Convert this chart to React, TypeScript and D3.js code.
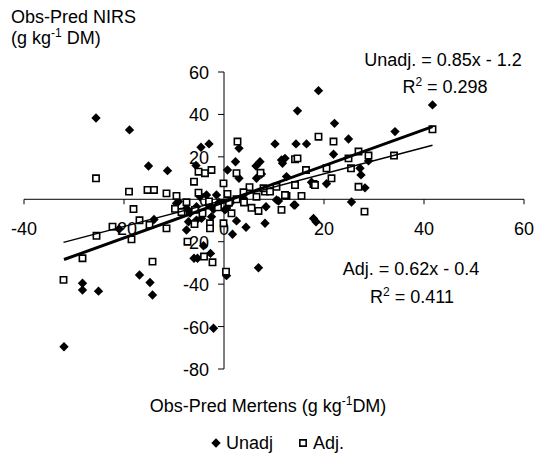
import React from "react";
import * as d3 from "d3";

// Unadjusted residuals: [Obs-Pred Mertens, Obs-Pred NIRS]
const unadjX = [
  -32.0, -28.3, -28.3, -25.1, -25.6, -18.9, -15.1, -11.3, -16.9, -14.8, -14.3, -14.0,
  -21.0, -9.5, -7.5, -6.0, -4.1, -2.7, -5.3, 0.5, -2.1, 6.9, 1.7, 4.4, 2.5, 0.2, 8.4,
  8.2, 10.9, 14.2, 17.9, 18.4, -5.5, -2.5, -7.1, -4.5, -7.5, -3.1, -2.1, -5.5, -3.5,
  -4.8, -5.6, -4.6, -3.0, 2.3, 0.7, 3.0, 3.0, 6.4, 7.2, 10.2, 11.5, 12.2, 11.7, 14.4,
  16.5, 14.7, 18.9, 12.5, 17.5, 22.1, 24.9, 34.2, 41.7, 21.9, 28.9, 27.2, 27.4, 20.5,
  28.2, 25.5, 14.0, 6.5, 7.5, 10.5, 3.9, 0.5, -9.1, -1.5, -6.8, -8.6, -1.0, 1.2,
];
const unadjY = [
  -69.5, -39.6, -42.8, -43.3, 38.3, 32.7, 15.7, 13.5, -35.7, -39.2, -45.1, -9.5,
  -14.0, -1.9, -14.5, -27.8, -21.9, -25.5, -27.8, -36.0, -60.8, -32.3, -16.5, -13.2,
  -10.2, -5.0, -3.5, -11.3, -0.8, -2.7, -9.0, -10.6, -9.8, -8.2, -10.6, -9.0, -4.2,
  -2.7, -4.7, -3.5, 2.0, 1.2, 15.9, 24.5, 26.1, 17.7, 13.8, 24.0, 9.9, 15.7, 17.7,
  26.1, 18.5, 19.3, 17.0, 26.1, 26.1, 41.7, 51.2, 10.7, 8.0, 35.8, 28.4, 31.9, 44.5,
  21.2, 18.1, 14.6, 11.5, 7.3, 5.4, -1.3, -2.7, 9.9, 11.9, -0.3, 0.5, -4.2, -1.1,
  2.0, -6.5, -6.0, -1.5, -2.0,
];

// Adjusted residuals
const adjX = [
  -32.1, -28.3, -25.6, -19.0, -15.3, -14.0, -11.5, -9.5, -18.1, -16.9, -22.3, -25.5,
  -18.5, -14.9, -11.5, -14.3, -7.5, -7.3, -5.9, -2.8, -2.8, -0.1, 1.5, 5.5, 6.9,
  11.5, -4.0, -2.3, 0.4, -6.0, -5.1, -5.1, -3.8, -2.5, 2.7, 2.5, -0.1, 7.3, 14.2,
  14.7, 18.9, 16.4, 17.9, 5.1, 3.9, 0.7, 6.5, 8.2, 10.5, 12.5, 14.2, 15.5, 21.9,
  41.7, 34.0, 26.9, 28.9, 24.9, 20.5, 25.4, 21.5, 26.9, 18.2, 28.1, 12.2, 7.9, 9.2,
  2.5, -4.3, -5.8, -8.5, -3.0, 1.0, -9.8, -1.2, 4.0,
];
const adjY = [
  -38.0, -27.8, 9.9, 3.6, 4.4, 4.4, 2.8, 1.6, -4.6, -9.9, -12.9, -17.2, -18.9, -12.1,
  -13.7, -29.4, -1.4, -20.0, -11.7, -11.3, -13.7, -11.3, -6.6, -4.0, -5.5, -5.0,
  -27.0, -29.7, -34.1, 8.3, 3.1, 13.0, 12.3, 13.8, 27.2, 12.3, 7.5, 12.5, 18.9,
  19.3, 29.5, 13.8, 7.2, 5.7, 3.3, 2.5, 1.2, 3.6, 5.9, 1.6, 6.7, 1.6, 27.2, 33.0,
  20.6, 22.5, 20.6, 19.3, 14.6, 14.6, 9.9, 5.9, 6.7, -5.8, 2.0, 5.2, 3.6, 0.0, -6.6,
  -5.0, -6.0, -1.0, -1.5, -4.5, -3.8, -1.5,
];

// Fitted trend lines (slope, intercept)
const unadjFit = [0.85, -1.2];
const adjFit = [0.62, -0.4];

const xTicks = [-40, -20, 0, 20, 40, 60];
const yTicks = [-80, -60, -40, -20, 0, 20, 40, 60];

const W = 543;
const H = 455;
const FONT = "'Liberation Sans', Arial, sans-serif";
const FS = 18;
const SUP = 12;

export default function App() {
  const x = d3.scaleLinear().domain([-40, 60]).range([24, 524]);
  const y = d3.scaleLinear().domain([-80, 60]).range([369, 72]);

  const diamond = d3.symbol().type(d3.symbolSquare).size(44)();
  const square = d3.symbol().type(d3.symbolSquare).size(40)();

  const unadjPts = unadjX.map((v, i) => [v, unadjY[i]]);
  const adjPts = adjX.map((v, i) => [v, adjY[i]]);

  const fitLine = (xs: number[], fit: number[]) => {
    const [lo, hi] = d3.extent(xs) as [number, number];
    return d3.line()([
      [x(lo), y(fit[0] * lo + fit[1])],
      [x(hi), y(fit[0] * hi + fit[1])],
    ]) as string;
  };

  return (
    <div style={{ position: "absolute", left: 0, top: 0 }}>
      <svg width={W} height={H} style={{ display: "block", background: "#fff" }} fontFamily={FONT}>
        {/* y axis title */}
        <text x={11} y={23} fontSize={FS}>Obs-Pred NIRS</text>
        <text x={11} y={44} fontSize={FS}>
          (g kg<tspan fontSize={SUP} dy={-7}>-1</tspan>
          <tspan dy={7}> DM)</tspan>
        </text>

        {/* axes crossing at the origin */}
        <line x1={x(-40)} x2={x(60)} y1={y(0)} y2={y(0)} stroke="#000" strokeWidth={1} />
        {xTicks.map((t) => (
          <line key={"xt" + t} x1={x(t)} x2={x(t)} y1={y(0)} y2={y(0) + 5} stroke="#000" />
        ))}
        <line x1={x(0)} x2={x(0)} y1={y(-80)} y2={y(60)} stroke="#000" strokeWidth={1} />
        {yTicks.map((t) => (
          <line key={"yt" + t} x1={x(0) - 6} x2={x(0)} y1={y(t)} y2={y(t)} stroke="#000" />
        ))}

        {xTicks.map((t) => (
          <text key={"xl" + t} x={x(t)} y={y(0) + 36} fontSize={FS} textAnchor="middle">
            {t}
          </text>
        ))}
        {yTicks.map((t) => (
          <text key={"yl" + t} x={x(0) - 15} y={y(t) + 7} fontSize={FS} textAnchor="end">
            {t}
          </text>
        ))}

        {/* points */}
        {unadjPts.map((p, i) => (
          <path
            key={"u" + i}
            d={diamond}
            transform={`translate(${x(p[0])},${y(p[1])}) rotate(45)`}
            fill="#000"
          />
        ))}
        {adjPts.map((p, i) => (
          <path
            key={"a" + i}
            d={square}
            transform={`translate(${x(p[0])},${y(p[1])})`}
            fill="#fff"
            stroke="#000"
            strokeWidth={1.6}
          />
        ))}

        {/* trend lines */}
        <path d={fitLine(unadjX, unadjFit)} stroke="#000" strokeWidth={3} fill="none" />
        <path d={fitLine(adjX, adjFit)} stroke="#000" strokeWidth={1.5} fill="none" />

        {/* equations */}
        <text x={443} y={66} fontSize={FS} textAnchor="middle">
          Unadj. = {unadjFit[0]}x - {Math.abs(unadjFit[1])}
        </text>
        <text x={445} y={93} fontSize={FS} textAnchor="middle">
          R<tspan fontSize={SUP} dy={-7}>2</tspan>
          <tspan dy={7}> = 0.298</tspan>
        </text>
        <text x={411} y={275} fontSize={FS} textAnchor="middle">
          Adj. = {adjFit[0]}x - {Math.abs(adjFit[1])}
        </text>
        <text x={412} y={303} fontSize={FS} textAnchor="middle">
          R<tspan fontSize={SUP} dy={-7}>2</tspan>
          <tspan dy={7}> = 0.411</tspan>
        </text>

        {/* x axis title */}
        <text x={268} y={412} fontSize={FS} textAnchor="middle">
          Obs-Pred Mertens (g kg<tspan fontSize={SUP} dy={-7}>-1</tspan>
          <tspan dy={7}>DM)</tspan>
        </text>

        {/* legend */}
        <path d={diamond} transform="translate(216,443) rotate(45)" fill="#000" />
        <text x={226} y={449} fontSize={FS}>Unadj</text>
        <path d={square} transform="translate(303,443)" fill="#fff" stroke="#000" strokeWidth={1.6} />
        <text x={313} y={449} fontSize={FS}>Adj.</text>
      </svg>
    </div>
  );
}
